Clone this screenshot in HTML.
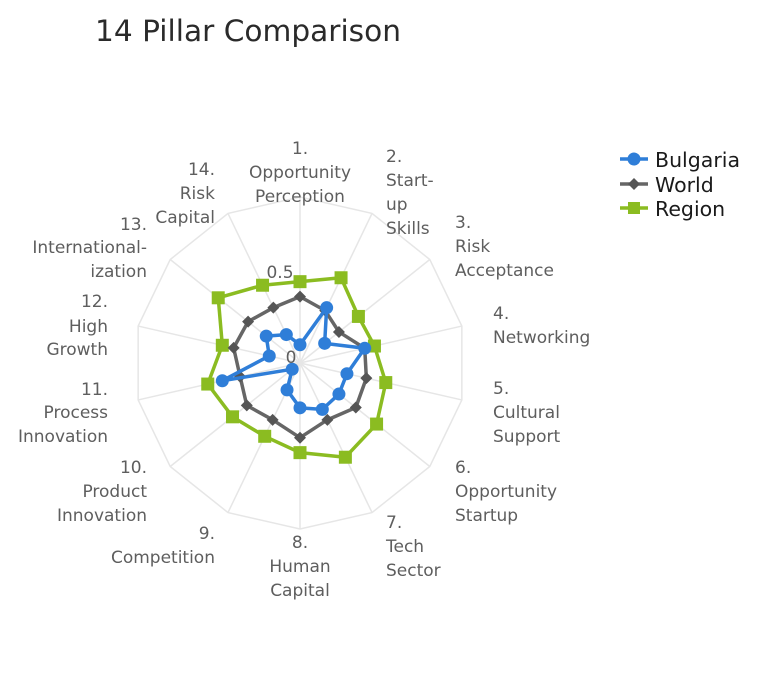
<!DOCTYPE html>
<html><head><meta charset="utf-8"><style>
html,body{margin:0;padding:0;background:#fff;}
svg{display:block;}
text{font-family:"DejaVu Sans","Liberation Sans",sans-serif;}
.l{font-size:17px;fill:#5e5e5e;}
</style></head><body>
<svg id="s" width="768" height="683" viewBox="0 0 768 683" xmlns="http://www.w3.org/2000/svg">
<text x="95" y="41" font-size="29" fill="#2a2a2a" textLength="306" lengthAdjust="spacingAndGlyphs">14 Pillar Comparison</text>
<g id="grid"></g>
<g id="series"></g>
<text class="l" x="280" y="278" text-anchor="middle">0.5</text>
<text class="l" x="291" y="363" text-anchor="middle">0</text>
<g class="l">
<text x="300" y="154" text-anchor="middle">1.</text>
<text x="300" y="178" text-anchor="middle">Opportunity</text>
<text x="300" y="202" text-anchor="middle">Perception</text>
<text x="386" y="162">2.</text><text x="386" y="186">Start-</text><text x="386" y="210">up</text><text x="386" y="234">Skills</text>
<text x="455" y="228">3.</text><text x="455" y="252">Risk</text><text x="455" y="276">Acceptance</text>
<text x="493" y="319">4.</text><text x="493" y="343">Networking</text>
<text x="493" y="394">5.</text><text x="493" y="418">Cultural</text><text x="493" y="442">Support</text>
<text x="455" y="473">6.</text><text x="455" y="497">Opportunity</text><text x="455" y="521">Startup</text>
<text x="386" y="528">7.</text><text x="386" y="552">Tech</text><text x="386" y="576">Sector</text>
<text x="300" y="548" text-anchor="middle">8.</text><text x="300" y="572" text-anchor="middle">Human</text><text x="300" y="596" text-anchor="middle">Capital</text>
<text x="215" y="539" text-anchor="end">9.</text><text x="215" y="563" text-anchor="end">Competition</text>
<text x="147" y="473" text-anchor="end">10.</text><text x="147" y="497" text-anchor="end">Product</text><text x="147" y="521" text-anchor="end">Innovation</text>
<text x="108" y="395" text-anchor="end">11.</text><text x="108" y="418" text-anchor="end">Process</text><text x="108" y="442" text-anchor="end">Innovation</text>
<text x="108" y="307" text-anchor="end">12.</text><text x="108" y="332" text-anchor="end">High</text><text x="108" y="355" text-anchor="end">Growth</text>
<text x="147" y="230" text-anchor="end">13.</text><text x="147" y="253" text-anchor="end">International-</text><text x="147" y="277" text-anchor="end">ization</text>
<text x="215" y="175" text-anchor="end">14.</text><text x="215" y="199" text-anchor="end">Risk</text><text x="215" y="223" text-anchor="end">Capital</text>
</g>
<g>
<line x1="620" y1="159" x2="648" y2="159" stroke="#2f7ed8" stroke-width="3.5"/><circle cx="634" cy="159" r="6.5" fill="#2f7ed8"/>
<text x="655" y="167" font-size="20.5" fill="#1a1a1a">Bulgaria</text>
<line x1="620" y1="184" x2="648" y2="184" stroke="#666" stroke-width="3.5"/><path d="M634 178 L640 184 L634 190 L628 184Z" fill="#555"/>
<text x="655" y="192" font-size="20.5" fill="#1a1a1a">World</text>
<line x1="620" y1="208" x2="648" y2="208" stroke="#8bbc21" stroke-width="3.5"/><rect x="628" y="202" width="12" height="12" fill="#8bbc21"/>
<text x="655" y="216" font-size="20.5" fill="#1a1a1a">Region</text>
</g>
</svg>
<script>
var cx=300,cy=363,R=166,N=14,ns="http://www.w3.org/2000/svg";
function pt(i,v){var a=i*2*Math.PI/N;return [cx+Math.sin(a)*v*R, cy-Math.cos(a)*v*R];}
function el(t,at,p){var e=document.createElementNS(ns,t);for(var k in at)e.setAttribute(k,at[k]);p.appendChild(e);return e;}
var g=document.getElementById('grid'),s=document.getElementById('series');
var pts=[];for(var i=0;i<N;i++){var p=pt(i,1);pts.push(p.join(','));el('line',{x1:cx,y1:cy,x2:p[0],y2:p[1],stroke:'#e6e6e6','stroke-width':1.5},g);}
el('polygon',{points:pts.join(' '),fill:'none',stroke:'#e6e6e6','stroke-width':1.5},g);
var region=[0.49,0.57,0.45,0.46,0.53,0.59,0.63,0.54,0.49,0.52,0.57,0.48,0.63,0.52];
var world=[0.40,0.35,0.30,0.40,0.41,0.43,0.38,0.45,0.38,0.41,0.37,0.41,0.40,0.37];
var bul=[0.11,0.37,0.19,0.40,0.29,0.30,0.31,0.27,0.18,0.06,0.48,0.19,0.26,0.19];
function series(d,col,mk){var P=d.map(function(v,i){return pt(i,v);});
 el('polygon',{points:P.map(function(p){return p.join(',');}).join(' '),fill:'none',stroke:col,'stroke-width':3.5,'stroke-linejoin':'round'},s);
 P.forEach(function(p){
  if(mk=='c')el('circle',{cx:p[0],cy:p[1],r:6.5,fill:col},s);
  else if(mk=='s')el('rect',{x:p[0]-6.5,y:p[1]-6.5,width:13,height:13,fill:col},s);
  else el('path',{d:'M'+p[0]+' '+(p[1]-6)+' L'+(p[0]+6)+' '+p[1]+' L'+p[0]+' '+(p[1]+6)+' L'+(p[0]-6)+' '+p[1]+'Z',fill:'#555'},s);
 });}
series(region,'#8bbc21','s');
series(world,'#666','d');
series(bul,'#2f7ed8','c');
</script>
</body></html>
